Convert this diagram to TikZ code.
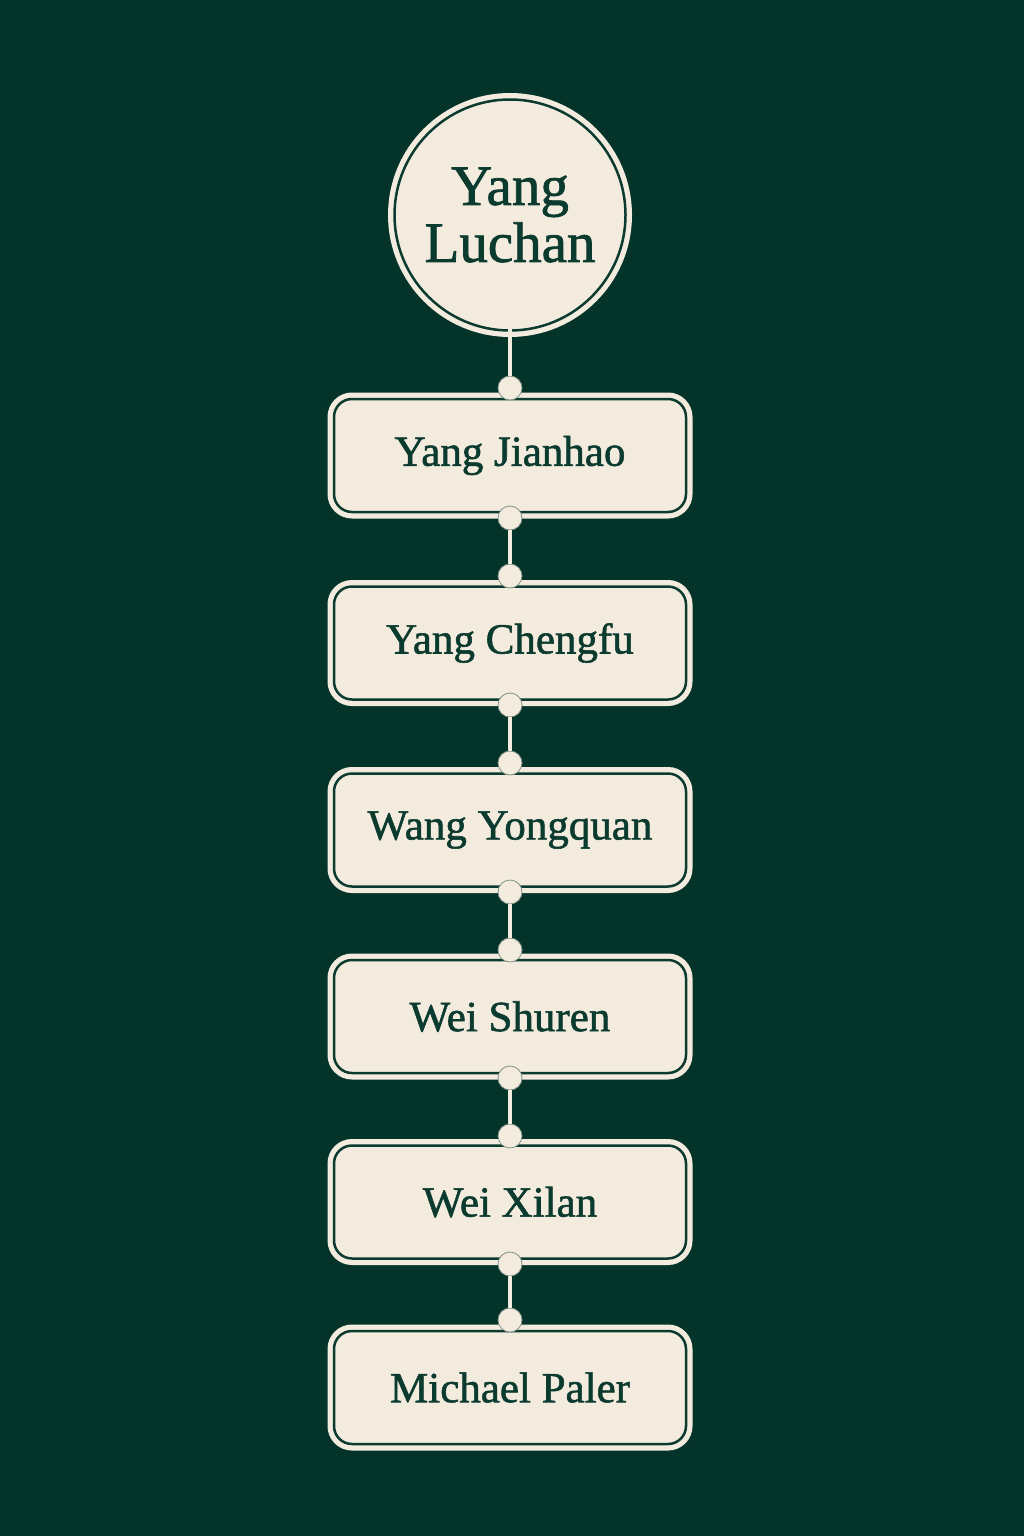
\documentclass[tikz,border=0pt]{standalone}
\usepackage{fontspec}
\setmainfont{Liberation Serif}
\newfontfamily\namefont{Liberation Serif}[FakeBold=1.3]
\usepackage{tikz}

\definecolor{pine}{HTML}{04332A}
\definecolor{cream}{HTML}{F3EBDD}
\definecolor{ink}{HTML}{0B3A2F}

\tikzset{
  master/.style={circle, draw=ink, line width=2.5pt, fill=cream, text=ink,
    minimum size=231pt, inner sep=0pt, outer sep=0pt, align=center,
    font=\namefont\fontsize{57}{57}\selectfont, preaction={draw=cream, line width=13pt}},
  pupil/.style={rectangle, rounded corners=18pt, draw=ink, line width=2.5pt,
    fill=cream, text=ink, minimum width=352pt, minimum height=113pt,
    inner sep=0pt, outer sep=0pt, font=\namefont\fontsize{43}{50}\selectfont,
    preaction={draw=cream, line width=13pt}},
  knot/.style={circle, fill=cream, draw=ink!50!cream, line width=0.8pt,
    minimum size=24pt, inner sep=0pt, outer sep=0pt},
  link/.style={draw=cream, line width=4.5pt}
}

\begin{document}
\begin{tikzpicture}[x=1pt, y=-1pt]
\fill[pine] (0,0) rectangle (1024,1536);
\useasboundingbox (0,0) rectangle (1024,1536);

\node (luchan) [master] at (510,215) {Yang\\Luchan};

\node (jianhao) [pupil] at (510,455.5) {Yang Jianhao};
\node (chengfu) [pupil] at (510,643) {Yang Chengfu};
\node (yongquan) [pupil] at (510,830) {Wang Yongquan};
\node (shuren) [pupil] at (510,1016.5) {Wei Shuren};
\node (xilan) [pupil] at (510,1202) {Wei Xilan};
\node (paler) [pupil] at (510,1387.5) {Michael Paler};

\node (t1) [knot] at (510,388) {};
\node (b1) [knot] at (510,518) {};
\node (t2) [knot] at (510,576) {};
\node (b2) [knot] at (510,705) {};
\node (t3) [knot] at (510,763) {};
\node (b3) [knot] at (510,892) {};
\node (t4) [knot] at (510,950) {};
\node (b4) [knot] at (510,1078) {};
\node (t5) [knot] at (510,1136) {};
\node (b5) [knot] at (510,1264) {};
\node (t6) [knot] at (510,1320) {};

\path (luchan.south) edge [link, shorten <=-6pt] (t1);
\path (b1) edge [link] (t2);
\path (b2) edge [link] (t3);
\path (b3) edge [link] (t4);
\path (b4) edge [link] (t5);
\path (b5) edge [link] (t6);
\end{tikzpicture}
\end{document}
